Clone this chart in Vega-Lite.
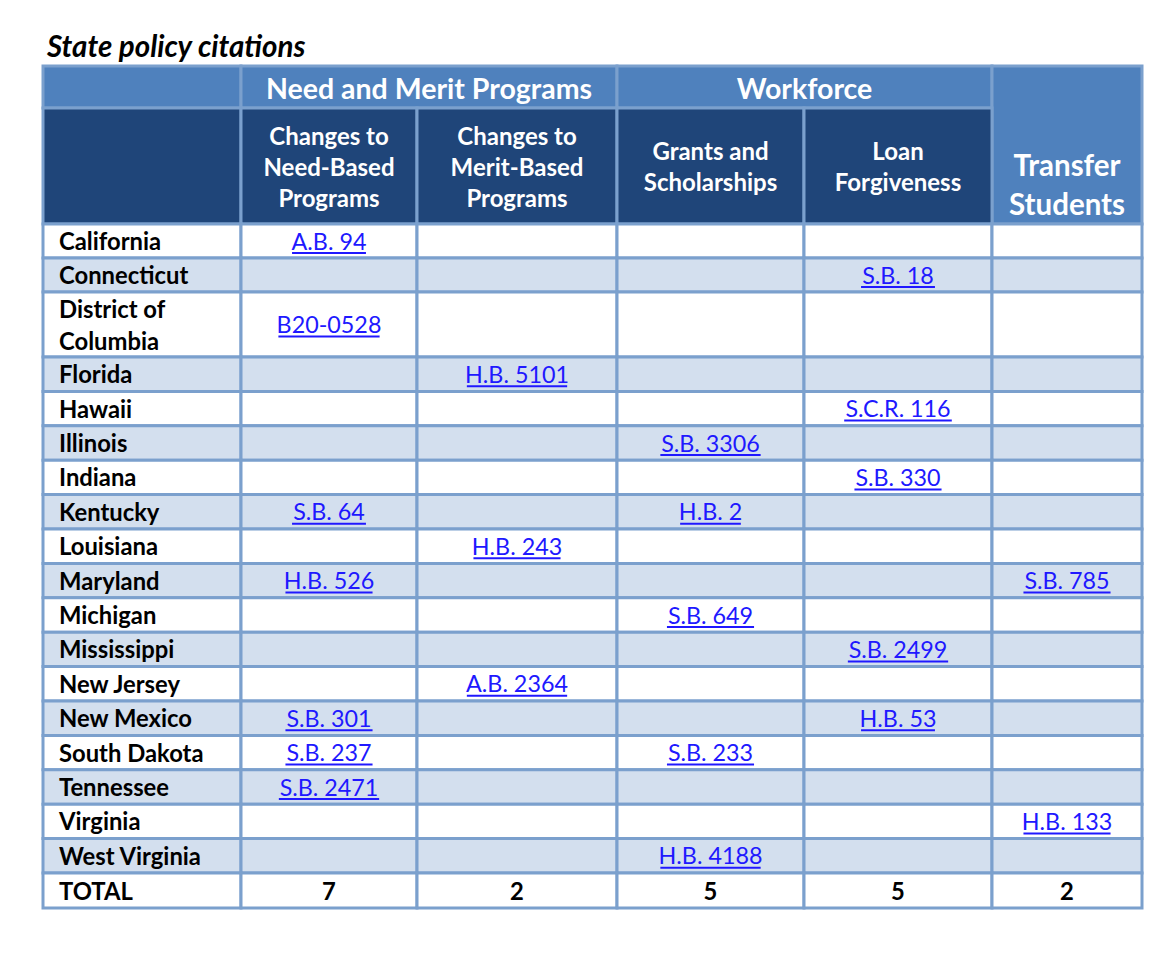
{
  "$schema": "https://vega.github.io/schema/vega-lite/v6.json",
  "width": 1099,
  "height": 842,
  "autosize": {"type": "none"},
  "padding": {"left": 43, "top": 66, "right": 32, "bottom": 63},
  "background": "white",
  "config": {"view": {"stroke": null}, "font": "Lato"},
  "title": {
    "text": "State policy citations",
    "anchor": "start",
    "frame": "group",
    "font": "Lato",
    "fontSize": 29.5,
    "fontStyle": "italic",
    "fontWeight": "bold",
    "color": "#000000",
    "baseline": "alphabetic",
    "offset": 9,
    "dx": 4,
    "dy": 31
  },
  "datasets": {
    "headers": [
      {"label": "", "c0": 0, "c1": 1, "r0": 0, "r1": 1, "level": "group"},
      {"label": "Need and Merit Programs", "c0": 1, "c1": 3, "r0": 0, "r1": 1, "level": "group"},
      {"label": "Workforce", "c0": 3, "c1": 5, "r0": 0, "r1": 1, "level": "group"},
      {"label": "Transfer\nStudents", "c0": 5, "c1": 6, "r0": 0, "r1": 2, "level": "group"},
      {"label": "", "c0": 0, "c1": 1, "r0": 1, "r1": 2, "level": "sub"},
      {"label": "Changes to\nNeed-Based\nPrograms", "c0": 1, "c1": 2, "r0": 1, "r1": 2, "level": "sub"},
      {"label": "Changes to\nMerit-Based\nPrograms", "c0": 2, "c1": 3, "r0": 1, "r1": 2, "level": "sub"},
      {"label": "Grants and\nScholarships", "c0": 3, "c1": 4, "r0": 1, "r1": 2, "level": "sub"},
      {"label": "Loan\nForgiveness", "c0": 4, "c1": 5, "r0": 1, "r1": 2, "level": "sub"}
    ],
    "states": [
      {"state": "California", "need": "A.B. 94"},
      {"state": "Connecticut", "loan": "S.B. 18"},
      {"state": "District of\nColumbia", "need": "B20-0528"},
      {"state": "Florida", "merit": "H.B. 5101"},
      {"state": "Hawaii", "loan": "S.C.R. 116"},
      {"state": "Illinois", "grants": "S.B. 3306"},
      {"state": "Indiana", "loan": "S.B. 330"},
      {"state": "Kentucky", "need": "S.B. 64", "grants": "H.B. 2"},
      {"state": "Louisiana", "merit": "H.B. 243"},
      {"state": "Maryland", "need": "H.B. 526", "transfer": "S.B. 785"},
      {"state": "Michigan", "grants": "S.B. 649"},
      {"state": "Mississippi", "loan": "S.B. 2499"},
      {"state": "New Jersey", "merit": "A.B. 2364"},
      {"state": "New Mexico", "need": "S.B. 301", "loan": "H.B. 53"},
      {"state": "South Dakota", "need": "S.B. 237", "grants": "S.B. 233"},
      {"state": "Tennessee", "need": "S.B. 2471"},
      {"state": "Virginia", "transfer": "H.B. 133"},
      {"state": "West Virginia", "grants": "H.B. 4188"},
      {"state": "TOTAL", "need": "7", "merit": "2", "grants": "5", "loan": "5", "transfer": "2"}
    ]
  },
  "layer": [
    {
      "data": {"name": "headers"},
      "mark": {"type": "rect", "stroke": "#7ba0cd", "strokeWidth": 3},
      "encoding": {
        "x": {"field": "c0", "type": "quantitative", "axis": null,
              "scale": {"domain": [0, 1, 2, 3, 4, 5, 6], "range": [0, 198, 374, 574, 761, 949, 1099], "zero": false, "nice": false}},
        "x2": {"field": "c1"},
        "y": {"field": "r0", "type": "quantitative", "axis": null,
              "scale": {"domain": [0, 1, 2, 3, 4, 5, 6, 7, 8, 9, 10, 11, 12, 13, 14, 15, 16, 17, 18, 19, 20, 21],
                        "range": [0, 42, 158, 192, 226, 291, 325.4, 359.8, 394.2, 428.6, 463, 497.4, 531.8, 566.2, 600.6, 635, 669.4, 703.8, 738.2, 772.6, 807, 842],
                        "zero": false, "nice": false}},
        "y2": {"field": "r1"},
        "fill": {"field": "level", "type": "nominal", "legend": null,
                 "scale": {"domain": ["group", "sub", "plain", "band"], "range": ["#4f81bd", "#1f4579", "#ffffff", "#d3dfee"]}}
      }
    },
    {
      "data": {"name": "states"},
      "transform": [
        {"window": [{"op": "row_number", "as": "rn"}]},
        {"fold": ["state", "need", "merit", "grants", "loan", "transfer"], "as": ["key", "value"]},
        {"calculate": "indexof(['state','need','merit','grants','loan','transfer'], datum.key)", "as": "c"},
        {"calculate": "datum.c + 1", "as": "c1"},
        {"calculate": "datum.rn + 1", "as": "r"},
        {"calculate": "datum.rn + 2", "as": "r1"},
        {"calculate": "datum.rn % 2 == 0 ? 'band' : 'plain'", "as": "level"}
      ],
      "mark": {"type": "rect", "stroke": "#7ba0cd", "strokeWidth": 3},
      "encoding": {
        "x": {"field": "c", "type": "quantitative"},
        "x2": {"field": "c1"},
        "y": {"field": "r", "type": "quantitative"},
        "y2": {"field": "r1"},
        "fill": {"field": "level", "type": "nominal", "legend": null}
      }
    },
    {
      "data": {"name": "headers"},
      "transform": [
        {"filter": "datum.label != '' && datum.r1 - datum.r0 == 1 && datum.level == 'group'"},
        {"calculate": "([0,198,374,574,761,949,1099][datum.c0] + [0,198,374,574,761,949,1099][datum.c1]) / 2", "as": "hm"},
        {"calculate": "datum.hm >= [0,198,374,574,761,949,1099][datum.c0 + 1] ? datum.c0 + 1 : datum.c0", "as": "hk"},
        {"calculate": "datum.hk + (datum.hm - [0,198,374,574,761,949,1099][datum.hk]) / ([0,198,374,574,761,949,1099][datum.hk + 1] - [0,198,374,574,761,949,1099][datum.hk])", "as": "hx"},
        {"calculate": "(datum.r0 + datum.r1) / 2", "as": "hy"}
      ],
      "mark": {"type": "text", "font": "Lato", "fontSize": 28.5, "fontWeight": "bold", "color": "#ffffff", "align": "center", "baseline": "middle", "dy": 3},
      "encoding": {
        "x": {"field": "hx", "type": "quantitative"},
        "y": {"field": "hy", "type": "quantitative"},
        "text": {"field": "label"}
      }
    },
    {
      "data": {"name": "headers"},
      "transform": [
        {"filter": "datum.label != '' && datum.level == 'sub'"},
        {"calculate": "(datum.c0 + datum.c1) / 2", "as": "hx"},
        {"calculate": "(datum.r0 + datum.r1) / 2 - (length(split(datum.label, '\\n')) - 1) * 15.5 / 116", "as": "hy"}
      ],
      "mark": {"type": "text", "font": "Lato", "fontSize": 24, "fontWeight": "bold", "color": "#ffffff", "align": "center", "baseline": "middle", "lineBreak": "\n", "lineHeight": 31, "dy": 2.5},
      "encoding": {
        "x": {"field": "hx", "type": "quantitative"},
        "y": {"field": "hy", "type": "quantitative"},
        "text": {"field": "label"}
      }
    },
    {
      "data": {"name": "headers"},
      "transform": [
        {"filter": "datum.r1 - datum.r0 == 2"},
        {"calculate": "(datum.c0 + datum.c1) / 2", "as": "hx"},
        {"calculate": "(datum.r0 + datum.r1) / 2", "as": "hy"}
      ],
      "mark": {"type": "text", "font": "Lato", "fontSize": 29.5, "fontWeight": "bold", "color": "#ffffff", "align": "center", "baseline": "middle", "lineBreak": "\n", "lineHeight": 39, "dy": 59},
      "encoding": {
        "x": {"field": "hx", "type": "quantitative"},
        "y": {"field": "hy", "type": "quantitative"},
        "text": {"field": "label"}
      }
    },
    {
      "data": {"name": "states"},
      "transform": [
        {"window": [{"op": "row_number", "as": "rn"}]},
        {"filter": "indexof(datum.state, '\\n') < 0"},
        {"calculate": "datum.rn + 1.5", "as": "ym"}
      ],
      "mark": {"type": "text", "font": "Lato", "fontSize": 23.8, "fontWeight": "bold", "color": "#000000", "align": "left", "baseline": "middle", "dx": 16, "dy": 2},
      "encoding": {
        "x": {"datum": 0, "type": "quantitative"},
        "y": {"field": "ym", "type": "quantitative"},
        "text": {"field": "state"}
      }
    },
    {
      "data": {"name": "states"},
      "transform": [
        {"window": [{"op": "row_number", "as": "rn"}]},
        {"filter": "indexof(datum.state, '\\n') >= 0"},
        {"calculate": "datum.rn + 1.5", "as": "ym"}
      ],
      "mark": {"type": "text", "font": "Lato", "fontSize": 23.8, "fontWeight": "bold", "color": "#000000", "align": "left", "baseline": "middle", "lineBreak": "\n", "lineHeight": 32, "dx": 16, "dy": -14},
      "encoding": {
        "x": {"datum": 0, "type": "quantitative"},
        "y": {"field": "ym", "type": "quantitative"},
        "text": {"field": "state"}
      }
    },
    {
      "data": {"name": "states"},
      "transform": [
        {"window": [{"op": "row_number", "as": "rn"}]},
        {"fold": ["need", "merit", "grants", "loan", "transfer"], "as": ["key", "value"]},
        {"filter": "isValid(datum.value) && datum.value != '' && datum.state == 'TOTAL'"},
        {"calculate": "indexof(['state','need','merit','grants','loan','transfer'], datum.key) + 0.5", "as": "cm"},
        {"calculate": "datum.rn + 1.5", "as": "ym"}
      ],
      "mark": {"type": "text", "font": "Lato", "fontSize": 23.8, "fontWeight": "bold", "color": "#000000", "align": "center", "baseline": "middle", "dy": 2},
      "encoding": {
        "x": {"field": "cm", "type": "quantitative"},
        "y": {"field": "ym", "type": "quantitative"},
        "text": {"field": "value"}
      }
    },
    {
      "data": {"name": "states"},
      "transform": [
        {"window": [{"op": "row_number", "as": "rn"}]},
        {"fold": ["need", "merit", "grants", "loan", "transfer"], "as": ["key", "value"]},
        {"filter": "isValid(datum.value) && datum.value != '' && datum.state != 'TOTAL'"},
        {"calculate": "indexof(['state','need','merit','grants','loan','transfer'], datum.key) + 0.5", "as": "cm"},
        {"calculate": "datum.rn + 1.5", "as": "ym"}
      ],
      "mark": {"type": "text", "font": "Lato", "fontSize": 23.3, "color": "#2018ff", "align": "center", "baseline": "middle", "dy": 1.5},
      "encoding": {
        "x": {"field": "cm", "type": "quantitative"},
        "y": {"field": "ym", "type": "quantitative"},
        "text": {"field": "value"}
      }
    },
    {
      "data": {"name": "states"},
      "transform": [
        {"window": [{"op": "row_number", "as": "rn"}]},
        {"fold": ["need", "merit", "grants", "loan", "transfer"], "as": ["key", "value"]},
        {"filter": "isValid(datum.value) && datum.value != '' && datum.state != 'TOTAL'"},
        {"calculate": "indexof(['state','need','merit','grants','loan','transfer'], datum.key)", "as": "c"},
        {"calculate": "13.2 * length(replace(datum.value, regexp('[^0-9]', 'g'), '')) + 14 * length(replace(datum.value, regexp('[^A-Z]', 'g'), '')) + 6.5 * length(replace(datum.value, regexp('[^. ]', 'g'), '')) + 8 * length(replace(datum.value, regexp('[^-]', 'g'), ''))", "as": "w"},
        {"calculate": "[198,176,200,187,188,150][datum.c]", "as": "cw"},
        {"calculate": "datum.c + 0.5 - (datum.w / 2) / datum.cw", "as": "ux0"},
        {"calculate": "datum.c + 0.5 + (datum.w / 2) / datum.cw", "as": "ux1"},
        {"calculate": "datum.rn + 1.5", "as": "ym"}
      ],
      "mark": {"type": "rule", "stroke": "#2018ff", "strokeWidth": 2, "yOffset": 12},
      "encoding": {
        "x": {"field": "ux0", "type": "quantitative"},
        "x2": {"field": "ux1"},
        "y": {"field": "ym", "type": "quantitative"}
      }
    }
  ]
}
